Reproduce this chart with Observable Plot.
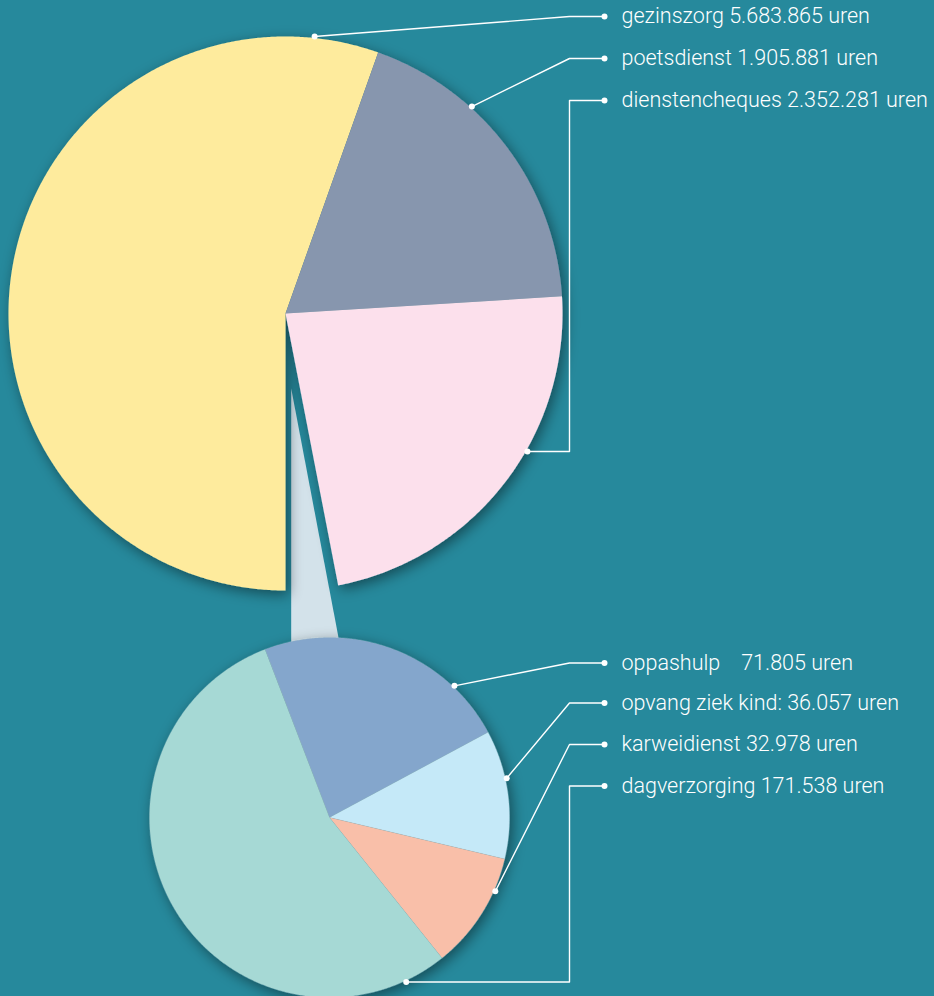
<!DOCTYPE html>
<html><head><meta charset="utf-8">
<script src="https://cdn.jsdelivr.net/npm/d3@7"></script>
<script src="https://cdn.jsdelivr.net/npm/@observablehq/plot@0.6"></script>
<style>
html,body{margin:0;padding:0;background:#26899c;overflow:hidden;}
</style></head><body><div id="chart"></div>
<script>
// ---- data ----
const mainCategories = ["gezinszorg", "poetsdienst", "dienstencheques"];
const mainValues = [5683865, 1905881, 2352281];
const mainLabelPrefix = ["gezinszorg ", "poetsdienst ", "dienstencheques "];
const subCategories = ["oppashulp", "opvang ziek kind", "karweidienst", "dagverzorging"];
const subValues = [71805, 36057, 32978, 171538];
const subLabelPrefix = ["oppashulp\u00a0\u00a0\u00a0 ", "opvang ziek kind: ", "karweidienst ", "dagverzorging "];
const unit = " uren";
const mainColors = ["#feeb9d", "#8796ae", "#fce0ec"];
const subColors = ["#84a6cc", "#c5e9f8", "#f9bfa9", "#a6d9d5"];

// ---- layout ----
const W = 934, H = 996;
const deg = Math.PI / 180;
const big = {cx: 285, cy: 313, r: 277, start: Math.PI};
const small = {cx: 329, cy: 817, r: 180, start: -21 * deg};
const mainAnchorDeg = [6, 42, 119.7];
const subAnchorDeg = [43.5, 77.5, 114, 155];
const mainLabelY = [16, 58, 100];
const subLabelY = [662.5, 702.5, 744, 785.5];
const mainRoute = ["diag", "diag", "ortho"];
const subRoute = ["diag", "diag", "diag", "ortho"];
const bendX = 569, dotX = 604, textX = 621;

const fmt = d3.formatLocale({decimal: ",", thousands: ".", grouping: [3], currency: ["€", ""]}).format(",d");

function pt(p, a, r) { return [p.cx + r * Math.sin(a), p.cy - r * Math.cos(a)]; }

function slicePoints(cats, vals, p, drawCount) {
  const arcs = d3.pie().sort(null).startAngle(p.start).endAngle(p.start + 2 * Math.PI)(vals);
  const out = [];
  arcs.slice(0, drawCount).forEach((a, i) => {
    out.push({slice: cats[i], x: p.cx, y: p.cy});
    const n = Math.max(2, Math.ceil((a.endAngle - a.startAngle) / (0.4 * deg)));
    for (let k = 0; k <= n; k++) {
      const ang = a.startAngle + (a.endAngle - a.startAngle) * k / n;
      const [x, y] = pt(p, ang, p.r);
      out.push({slice: cats[i], x, y});
    }
  });
  return {out, arcs};
}

const bigRes = slicePoints([...mainCategories, "overig"], [...mainValues, d3.sum(subValues)], big, 3);
const smallRes = slicePoints(subCategories, subValues, small, 4);

// connector between the "overig" gap and the small pie
const apex = [big.cx + 5.7, big.cy + 75];
const connector = [
  {x: apex[0], y: apex[1]},
  {x: apex[0] + 47.3 / 249 * (small.cy - 100 - apex[1]), y: small.cy - 100},
  {x: apex[0], y: small.cy - 100}
];

// leaders & labels
const leaders = [], dots = [], labels = [];
function addLabels(cats, vals, prefixes, anchors, ys, routes, p) {
  cats.forEach((c, i) => {
    const [ax, ay] = pt(p, anchors[i] * deg, p.r + 1.5);
    const ly = ys[i];
    const path = routes[i] === "ortho"
      ? [[ax, ay], [bendX, ay], [bendX, ly], [dotX, ly]]
      : [[ax, ay], [bendX, ly], [dotX, ly]];
    path.forEach(([x, y]) => leaders.push({key: c, x, y}));
    dots.push({x: ax, y: ay}, {x: dotX, y: ly});
    labels.push({x: textX, y: ly, text: prefixes[i] + fmt(vals[i]) + unit});
  });
}
addLabels(mainCategories, mainValues, mainLabelPrefix, mainAnchorDeg, mainLabelY, mainRoute, big);
addLabels(subCategories, subValues, subLabelPrefix, subAnchorDeg, subLabelY, subRoute, small);

const chart = Plot.plot({
  width: W, height: H, margin: 0,
  x: {domain: [0, W], range: [0, W], axis: null},
  y: {domain: [0, H], range: [0, H], axis: null},
  color: {domain: [...mainCategories, ...subCategories], range: [...mainColors, ...subColors]},
  style: {background: "#26899c", fontFamily: "Roboto, sans-serif"},
  marks: [
    Plot.line(connector, {x: "x", y: "y", fill: "#d3e2ea", stroke: "none", curve: "linear-closed"}),
    Plot.line(bigRes.out, {x: "x", y: "y", z: "slice", fill: "slice", stroke: "none", curve: "linear-closed"}),
    Plot.line(smallRes.out, {x: "x", y: "y", z: "slice", fill: "slice", stroke: "#9fb8bf", strokeWidth: 0.4, strokeOpacity: 0.5, curve: "linear-closed"}),
    Plot.line(leaders, {x: "x", y: "y", z: "key", stroke: "white", strokeWidth: 1.4}),
    Plot.dot(dots, {x: "x", y: "y", r: 3, fill: "white", stroke: "none"}),
    Plot.text(labels, {x: "x", y: "y", text: "text", fill: "white", fontSize: 21.5, fontWeight: 300, textAnchor: "start", lineAnchor: "middle"})
  ]
});

// drop shadow on the pies
const ns = "http://www.w3.org/2000/svg";
const defs = document.createElementNS(ns, "defs");
defs.innerHTML = '<filter id="pieShadow" x="-20%" y="-20%" width="140%" height="140%"><feDropShadow dx="3" dy="4" stdDeviation="7" flood-color="#000" flood-opacity="0.45"/></filter>';
chart.insertBefore(defs, chart.firstChild);
const lineGroups = chart.querySelectorAll('g[aria-label="line"]');
lineGroups[1].setAttribute("filter", "url(#pieShadow)");
lineGroups[2].setAttribute("filter", "url(#pieShadow)");

document.getElementById("chart").appendChild(chart);
</script>
</body></html>
